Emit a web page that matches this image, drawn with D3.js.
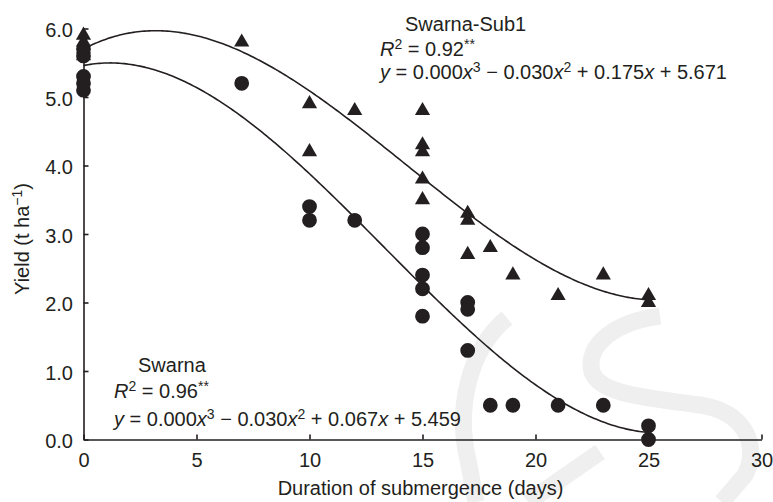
<!DOCTYPE html>
<html><head><meta charset="utf-8">
<script src="https://cdn.jsdelivr.net/npm/d3@7"></script>
<style>body{margin:0;background:#fff}svg{display:block}</style>
</head><body>
<svg id="c" width="773" height="502"></svg>
<script>
// ---- data ----
const xTicks = [0, 5, 10, 15, 20, 25, 30];
const yTicks = [0, 1, 2, 3, 4, 5, 6];
const sub1Days  = [0, 0, 0, 0, 7, 10, 10, 12, 15, 15, 15, 15, 15, 17, 17, 17, 18, 19, 21, 23, 25, 25];
const sub1Yield = [5.9, 5.8, 5.7, 5.6, 5.8, 4.9, 4.2, 4.8, 4.8, 4.3, 4.2, 3.8, 3.5, 3.3, 3.2, 2.7, 2.8, 2.4, 2.1, 2.4, 2.1, 2.0];
const swarnaDays  = [0, 0, 0, 0, 0, 7, 10, 10, 12, 15, 15, 15, 15, 15, 17, 17, 17, 18, 19, 21, 23, 25, 25];
const swarnaYield = [5.7, 5.6, 5.3, 5.2, 5.1, 5.2, 3.4, 3.2, 3.2, 3.0, 2.8, 2.4, 2.2, 1.8, 2.0, 1.9, 1.3, 0.5, 0.5, 0.5, 0.5, 0.2, 0.0];
// cubic fit coefficients as drawn [c0, c1, c2, c3]
const sub1Coef   = [5.70, 0.1748, -0.03075, 0.000716];
const swarnaCoef = [5.459, 0.067, -0.030, 0.00075];
const fitRange = [0, 25];
// printed equation terms
const sub1Eq   = {r2: "0.92", b: "0.175", c: "5.671"};
const swarnaEq = {r2: "0.96", b: "0.067", c: "5.459"};

const ink = "#231f20";
const font = "'Liberation Sans', Arial, Helvetica, sans-serif";
const fs = 20;
const W = 773, H = 502;
const m = {l: 83.5, r: 11.5, t: 28.5, b: 62.5};

const svg = d3.select("#c").attr("font-family", font);
const x = d3.scaleLinear().domain([0, 30]).range([m.l, W - m.r]);
const y = d3.scaleLinear().domain([0, 6]).range([H - m.b, m.t]);

// faint watermark (decoration)
const wm = svg.append("g").attr("fill", "none").attr("stroke", "#efefef").attr("stroke-width", 17);
wm.append("path").attr("d", "M507,318 C468,350 456,410 468,460 L476,502");
wm.append("path").attr("d", "M600,452 L528,502");
wm.append("path").attr("d", "M660,316 C615,322 585,345 592,372 C600,395 650,398 700,405 C745,412 760,445 745,475 L722,502");

// axes
const xAxis = d3.axisBottom(x).tickValues(xTicks).tickFormat(d3.format("d"))
  .tickSizeInner(-5).tickSizeOuter(0).tickPadding(13);
const yAxis = d3.axisLeft(y).tickValues(yTicks).tickFormat(d3.format(".1f"))
  .tickSizeInner(-5).tickSizeOuter(0).tickPadding(10.5);

const gx = svg.append("g").attr("transform", `translate(0,${H - m.b})`).call(xAxis);
const gy = svg.append("g").attr("transform", `translate(${m.l},0)`).call(yAxis);
[gx, gy].forEach(g => {
  g.selectAll("path,line").attr("stroke", ink).attr("stroke-width", 1.6);
  g.selectAll("text").attr("fill", ink).attr("font-size", fs).attr("font-family", font);
});
gy.selectAll("text").attr("dy", "0.4em");

// axis titles
svg.append("text").attr("x", (m.l + W - m.r) / 2 - 2).attr("y", 495)
  .attr("text-anchor", "middle").attr("font-size", fs).attr("fill", ink)
  .text("Duration of submergence (days)");
const yt = svg.append("text").attr("transform", `translate(29,${(m.t + H - m.b) / 2 + 5}) rotate(-90)`)
  .attr("text-anchor", "middle").attr("font-size", fs).attr("fill", ink);
yt.append("tspan").text("Yield (t ha");
yt.append("tspan").text("\u22121").attr("font-size", "0.7em").attr("dy", -7);
yt.append("tspan").text(")").attr("dy", 7);

// fit curves
const poly = c => v => c[0] + c[1] * v + c[2] * v * v + c[3] * v * v * v;
const xs = d3.range(fitRange[0], fitRange[1] + 0.001, 0.1);
const line = d3.line().x(d => x(d[0])).y(d => y(d[1]));
[sub1Coef, swarnaCoef].forEach(c => {
  const f = poly(c);
  svg.append("path").datum(xs.map(v => [v, f(v)])).attr("d", line)
    .attr("fill", "none").attr("stroke", ink).attr("stroke-width", 1.6);
});

// points
const circ = d3.symbol().type(d3.symbolCircle).size(Math.PI * 7.4 * 7.4);
const tri = d3.symbol().type(d3.symbolTriangle).size(100);
svg.append("g").selectAll("path").data(swarnaDays.map((d, i) => [d, swarnaYield[i]]))
  .join("path").attr("d", circ).attr("fill", ink)
  .attr("transform", d => `translate(${x(d[0])},${y(d[1])})`);
svg.append("g").selectAll("path").data(sub1Days.map((d, i) => [d, sub1Yield[i]]))
  .join("path").attr("d", tri).attr("fill", ink)
  .attr("transform", d => `translate(${x(d[0])},${y(d[1])})`);

// annotations
function rich(px, py, segs) {
  const t = svg.append("text").attr("x", px).attr("y", py).attr("font-size", fs).attr("fill", ink);
  let up = false;
  segs.forEach(([str, st]) => {
    const ts = t.append("tspan").text(str);
    if (st.includes("i")) ts.attr("font-style", "italic");
    if (st.includes("s")) {
      ts.attr("font-size", "0.7em");
      if (!up) { ts.attr("dy", -7.5); up = true; }
    } else if (up) { ts.attr("dy", 7.5); up = false; }
  });
}
const eqSegs = e => [["y", "i"], [" = 0.000", ""], ["x", "i"], ["3", "s"], [" \u2212 0.030", ""], ["x", "i"], ["2", "s"],
  [` + ${e.b}`, ""], ["x", "i"], [` + ${e.c}`, ""]];
const r2Segs = e => [["R", "i"], ["2", "s"], [` = ${e.r2}`, ""], ["**", "s"]];

rich(405, 31, [["Swarna-Sub1", ""]]);
rich(380, 56, r2Segs(sub1Eq));
rich(380, 79, eqSegs(sub1Eq));

rich(138, 372, [["Swarna", ""]]);
rich(114, 398, r2Segs(swarnaEq));
rich(114, 426, eqSegs(swarnaEq));
</script>
</body></html>
